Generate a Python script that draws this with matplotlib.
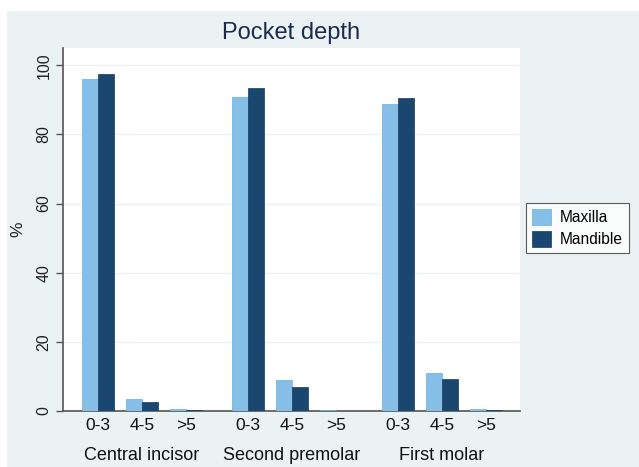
import matplotlib
matplotlib.use("Agg")
import matplotlib.pyplot as plt
import numpy as np
from matplotlib.patches import Rectangle
from matplotlib.transforms import blended_transform_factory

plt.rcParams["font.family"] = ["Liberation Sans", "DejaVu Sans"]

# ------------------------------------------------------------------ data
teeth = ["Central incisor", "Second premolar", "First molar"]
depths = ["0-3", "4-5", ">5"]
maxilla = [95.9, 3.5, 0.6, 90.8, 9.0, 0.2, 88.7, 10.9, 0.7]
mandible = [97.4, 2.6, 0.4, 93.3, 6.8, 0.1, 90.4, 9.2, 0.4]
series = ["Maxilla", "Mandible"]
colors = ["#85bfe8", "#1a476f"]
yticks = [0, 20, 40, 60, 80, 100]

# ------------------------------------------------------------------ layout
group_step = 150 / 44
bar_w = 16 / 44
centers = np.array([g * group_step + s for g in range(len(teeth)) for s in range(len(depths))])

bg = "#eaf2f3"
fig = plt.figure(figsize=(6.39, 4.67), dpi=100)
fig.patch.set_facecolor("white")
fig.patches.append(Rectangle((7 / 639, 0), 1, 1 - 11 / 467, transform=fig.transFigure,
                             facecolor=bg, edgecolor="none", zorder=-10))

ax = fig.add_axes([62.7 / 639, 1 - 411 / 467, (520 - 62.7) / 639, (411 - 48) / 467])
ax.set_facecolor("white")

ax.bar(centers - bar_w / 2, maxilla, width=bar_w, color=colors[0],
       edgecolor="#6aaee0", linewidth=0.5, label=series[0], zorder=3)
ax.bar(centers + bar_w / 2, mandible, width=bar_w, color=colors[1],
       edgecolor="#153a5c", linewidth=0.5, label=series[1], zorder=3)

ax.set_xlim(-0.80, centers[-1] + 0.77)
ax.set_ylim(0, 105)
ax.set_yticks(yticks)
ax.set_yticklabels([str(v) for v in yticks], rotation=90, va="center", fontsize=11.5, color="#222222")
ax.grid(axis="y", color=bg, linewidth=1, zorder=0)
ax.tick_params(axis="y", length=5, width=1, color="#555555", pad=3)

ax.set_xticks(centers)
ax.set_xticklabels(depths * len(teeth), fontsize=12.5, color="#111111")
ax.tick_params(axis="x", length=0, pad=5)

trans = blended_transform_factory(ax.transData, fig.transFigure)
for g, name in enumerate(teeth):
    ax.text(g * group_step + 1, 1 - 455 / 467, name, transform=trans,
            ha="center", va="center", fontsize=13, color="#111111")

for side in ["top", "right"]:
    ax.spines[side].set_visible(False)
ax.spines["left"].set_color("#555555")
ax.spines["bottom"].set_color("#555555")
ax.spines["left"].set_linewidth(1.2)
ax.spines["bottom"].set_linewidth(1.2)

ax.set_ylabel("%", fontsize=12.5, labelpad=8, color="#222222")
fig.text((62.7 + 520) / 2 / 639, 1 - 33 / 467, "Pocket depth", ha="center", va="center",
         fontsize=17, color="#1a2a50")

leg = fig.legend(loc="upper left", bbox_to_anchor=(526 / 639, 1 - 203 / 467),
                 borderaxespad=0, fontsize=11.2, frameon=True, fancybox=False,
                 edgecolor="#333333", handlelength=1.2, handleheight=1.2,
                 handletextpad=0.6, borderpad=0.4, labelspacing=0.35)
leg.get_frame().set_linewidth(0.8)

fig.savefig("out.png", dpi=100, facecolor=fig.get_facecolor())
